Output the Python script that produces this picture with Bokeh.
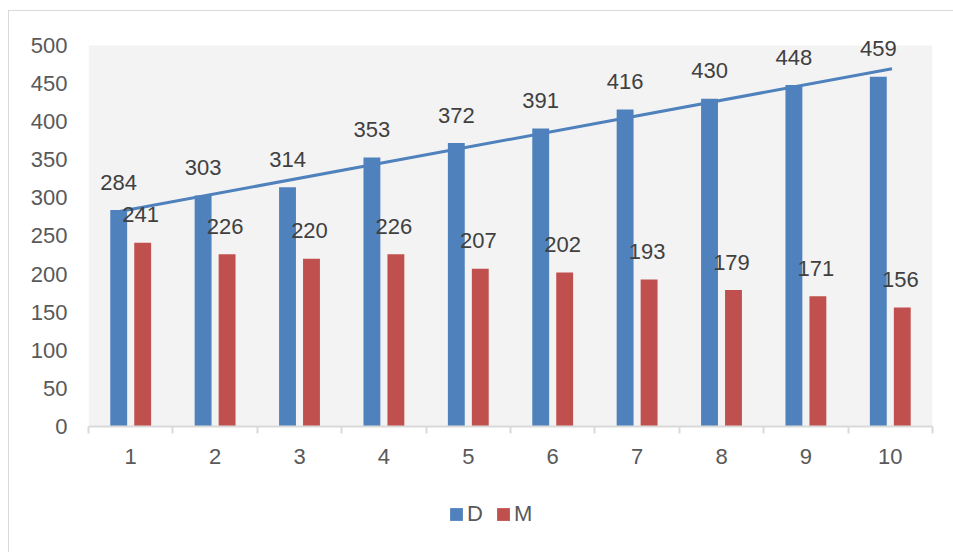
import numpy as np
from bokeh.plotting import figure
from bokeh.layouts import column
from bokeh.models import FixedTicker, BoxAnnotation, Legend, LegendItem, ColumnDataSource, Range1d
from bokeh.core.properties import value
from bokeh.embed import file_html
from bokeh.resources import INLINE

categories = [1, 2, 3, 4, 5, 6, 7, 8, 9, 10]
d_values = [284, 303, 314, 353, 372, 391, 416, 430, 448, 459]
m_values = [241, 226, 220, 226, 207, 202, 193, 179, 171, 156]
y_ticks = [0, 50, 100, 150, 200, 250, 300, 350, 400, 450, 500]
series_names = ["D", "M"]

BLUE = "#4f81bd"
RED = "#c0504d"
FONT = "Liberation Sans"
OFF = 0.142
BW = 0.2

p = figure(width=944, height=475, output_backend="svg", toolbar_location=None,
           x_range=Range1d(0.5, 10.5), y_range=Range1d(0, 544.6),
           min_border_left=79, min_border_right=21, min_border_top=0, min_border_bottom=60)
p.outline_line_color = None
p.background_fill_color = "white"
p.border_fill_color = "white"
p.xgrid.visible = False
p.ygrid.visible = False

p.add_layout(BoxAnnotation(left=0.5, right=10.5, bottom=0, top=500,
                           fill_color="#f3f3f3", fill_alpha=1, line_color=None, level="underlay"))

src = ColumnDataSource(dict(
    xd=[c - OFF for c in categories], xm=[c + OFF for c in categories],
    d=d_values, m=m_values,
    dl=[str(v) for v in d_values], ml=[str(v) for v in m_values]))

p.vbar(x="xd", top="d", width=BW, bottom=0, source=src, fill_color=BLUE, line_color=None)
p.vbar(x="xm", top="m", width=BW, bottom=0, source=src, fill_color=RED, line_color=None)

# linear trendline of D
coef = np.polyfit(np.array(categories, dtype=float), np.array(d_values, dtype=float), 1)
tx = [0.77, 10.02]
ty = [coef[0] * t + coef[1] for t in tx]
p.line(tx, ty, line_color=BLUE, line_width=3)

p.text(x="xd", y="d", text="dl", source=src, text_align="center", text_baseline="middle",
       y_offset=-28, text_font=value(FONT), text_font_size="22px", text_color="#404040")
p.text(x="xm", y="m", text="ml", source=src, text_align="center", text_baseline="middle",
       y_offset=-28, x_offset=-2, text_font=value(FONT), text_font_size="22px", text_color="#404040")

# axes
p.yaxis.ticker = FixedTicker(ticks=y_ticks)
p.yaxis.axis_line_color = None
p.yaxis.major_tick_line_color = None
p.yaxis.major_tick_out = 0
p.yaxis.major_tick_in = 0
p.yaxis.minor_tick_line_color = None
p.yaxis.minor_tick_out = 0
p.yaxis.major_label_standoff = 21
p.yaxis.major_label_text_font = FONT
p.yaxis.major_label_text_font_size = "22px"
p.yaxis.major_label_text_color = "#595959"

p.xaxis.ticker = FixedTicker(ticks=categories, minor_ticks=[c - 0.5 for c in categories] + [10.5])
p.xaxis.axis_line_color = "#d9d9d9"
p.xaxis.axis_line_width = 2
p.xaxis.major_tick_line_color = None
p.xaxis.major_tick_out = 0
p.xaxis.major_tick_in = 0
p.xaxis.minor_tick_line_color = "#d9d9d9"
p.xaxis.minor_tick_line_width = 2
p.xaxis.minor_tick_out = 7
p.xaxis.minor_tick_in = 0
p.xaxis.major_label_standoff = 15
p.xaxis.major_label_text_font = FONT
p.xaxis.major_label_text_font_size = "22px"
p.xaxis.major_label_text_color = "#595959"

# legend strip (frame aligned with the main plot's frame)
q = figure(width=944, height=66, output_backend="svg", toolbar_location=None,
           x_range=Range1d(0, 1), y_range=Range1d(0, 1),
           min_border_left=79, min_border_right=21, min_border_top=0, min_border_bottom=0)
q.axis.visible = False
q.grid.visible = False
q.outline_line_color = None
q.border_fill_color = "white"
q.background_fill_color = "white"
ld = q.vbar(x=[-10], top=[-9], bottom=[-10], width=0.1, fill_color=BLUE, line_color=None)
lm = q.vbar(x=[-10], top=[-9], bottom=[-10], width=0.1, fill_color=RED, line_color=None)
legend = Legend(items=[LegendItem(label=series_names[0], renderers=[ld]),
                       LegendItem(label=series_names[1], renderers=[lm])],
                orientation="horizontal", location=(360, 25), padding=0, margin=0,
                spacing=8, glyph_width=16, glyph_height=16, label_standoff=3,
                label_text_font=FONT, label_text_font_size="22px", label_text_color="#595959",
                border_line_color=None, background_fill_alpha=0)
q.add_layout(legend, "center")

layout = column(p, q, spacing=0,
                styles={"margin-left": "8px", "margin-top": "10px",
                        "border-left": "1px solid #d9d9d9", "border-top": "1px solid #d9d9d9"})

open("out.html", "w").write(file_html(layout, INLINE))
